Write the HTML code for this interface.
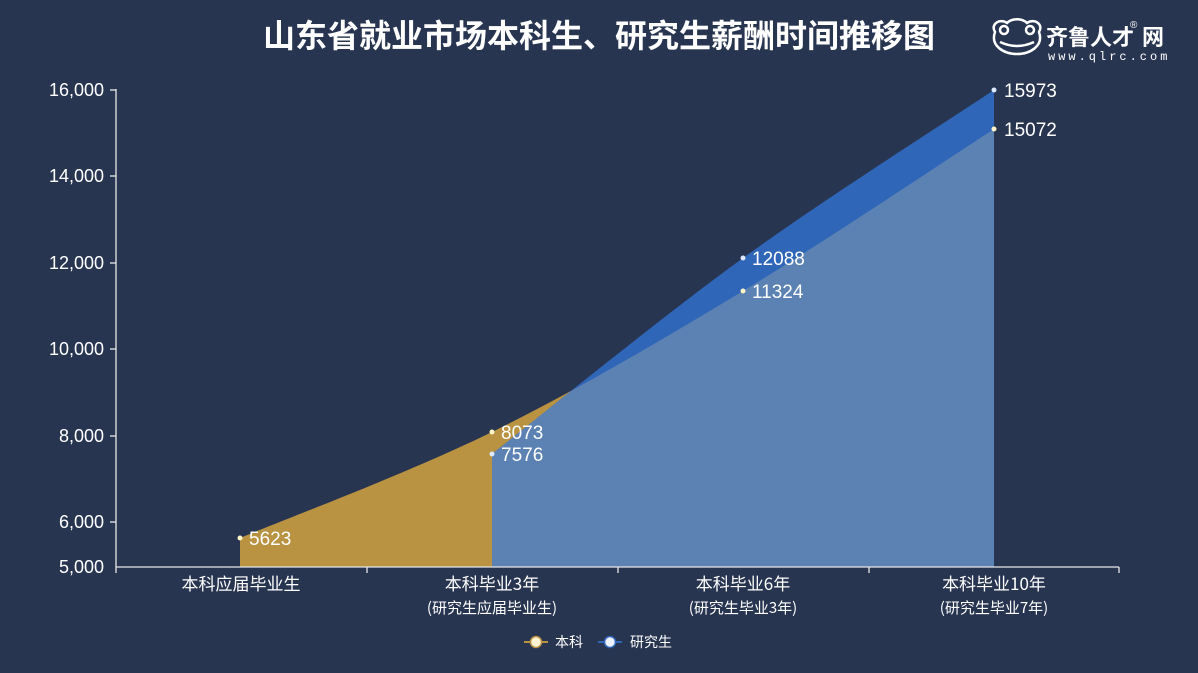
<!DOCTYPE html>
<html><head><meta charset="utf-8"><style>
html,body{margin:0;padding:0;background:#283550;}
body{width:1198px;height:673px;overflow:hidden;font-family:"Liberation Sans","Noto Sans CJK SC",sans-serif;}
</style></head><body>
<svg width="1198" height="673" xmlns="http://www.w3.org/2000/svg" style="display:block">
<rect width="1198" height="673" fill="#283550"/>
<defs>
<clipPath id="grad"><path d="M492,454 C533.8,421.3 659.3,318.7 743,258 C826.7,197.3 952.2,118 994,90 L994,567 L492,567 Z"/></clipPath>
</defs>
<text x="599" y="47" text-anchor="middle" font-size="32" font-weight="bold" fill="#ffffff" font-family="Liberation Sans,Noto Sans CJK SC,sans-serif">山东省就业市场本科生、研究生薪酬时间推移图</text>
<!-- logo -->
<g fill="none" stroke="#fff" stroke-width="2.5">
<path d="M995,32 C990,24 1000,18 1007,23 C1012,18 1022,18 1027,23 C1034,18 1044,24 1039,32 C1044,46 1030,54 1017,54 C1004,54 990,46 995,32 Z"/>
<circle cx="1004" cy="30" r="4"/><circle cx="1030" cy="30" r="4"/>
<path d="M1000,42 Q1017,50 1034,42"/>
</g>
<text x="1046" y="45" font-size="22" font-weight="bold" fill="#fff" font-family="Noto Sans CJK SC,sans-serif">齐鲁人才</text>
<text x="1142" y="45" font-size="22" font-weight="bold" fill="#fff" font-family="Noto Sans CJK SC,sans-serif">网</text>
<text x="1130" y="28" font-size="10" fill="#fff">®</text>
<text x="1048" y="60" font-size="12" fill="#fff" letter-spacing="3" font-family="Liberation Mono,monospace">www.qlrc.com</text>
<!-- areas -->
<path d="M240,538 C282,520.3 408.2,473.2 492,432 C575.8,390.8 659.3,341.5 743,291 C826.7,240.5 952.2,156 994,129 L994,567 L240,567 Z" fill="#b99342"/>
<path d="M492,454 C533.8,421.3 659.3,318.7 743,258 C826.7,197.3 952.2,118 994,90 L994,567 L492,567 Z" fill="#2f66b8"/>
<path clip-path="url(#grad)" d="M240,538 C282,520.3 408.2,473.2 492,432 C575.8,390.8 659.3,341.5 743,291 C826.7,240.5 952.2,156 994,129 L994,567 L240,567 Z" fill="#5b82b3"/>
<!-- axes -->
<g stroke="#e8e8e8" stroke-width="1.3">
<line x1="116" y1="89" x2="116" y2="567"/>
<line x1="116" y1="567" x2="1119" y2="567"/>
<line x1="110" y1="90" x2="116" y2="90"/><line x1="110" y1="176" x2="116" y2="176"/><line x1="110" y1="263" x2="116" y2="263"/><line x1="110" y1="349" x2="116" y2="349"/><line x1="110" y1="436" x2="116" y2="436"/><line x1="110" y1="522" x2="116" y2="522"/>
<line x1="116" y1="567" x2="116" y2="573"/><line x1="367" y1="567" x2="367" y2="573"/><line x1="618" y1="567" x2="618" y2="573"/><line x1="869" y1="567" x2="869" y2="573"/><line x1="1119" y1="567" x2="1119" y2="573"/>
</g>
<g font-size="18" fill="#ffffff" text-anchor="end">
<text x="104" y="96">16,000</text><text x="104" y="182">14,000</text><text x="104" y="269">12,000</text><text x="104" y="355">10,000</text><text x="104" y="442">8,000</text><text x="104" y="528">6,000</text><text x="104" y="573">5,000</text>
</g>
<g font-size="17" fill="#ffffff" text-anchor="middle" font-family="Noto Sans CJK SC,sans-serif">
<text x="241" y="590">本科应届毕业生</text>
<text x="492" y="590">本科毕业3年</text><text x="492" y="613" font-size="15">(研究生应届毕业生)</text>
<text x="743" y="590">本科毕业6年</text><text x="743" y="613" font-size="15">(研究生毕业3年)</text>
<text x="994" y="590">本科毕业10年</text><text x="994" y="613" font-size="15">(研究生毕业7年)</text>
</g>
<!-- points -->
<g fill="#fff3c8"><circle cx="240" cy="538" r="2.5"/><circle cx="492" cy="432" r="2.5"/><circle cx="743" cy="291" r="2.5"/><circle cx="994" cy="129" r="2.5"/></g>
<g fill="#dce9ff"><circle cx="492" cy="454" r="2.5"/><circle cx="743" cy="258" r="2.5"/><circle cx="994" cy="90" r="2.5"/></g>
<g font-size="19" fill="#ffffff">
<text x="249" y="545">5623</text><text x="501" y="439">8073</text><text x="501" y="461">7576</text>
<text x="752" y="298">11324</text><text x="752" y="265">12088</text>
<text x="1004" y="136">15072</text><text x="1004" y="97">15973</text>
</g>
<!-- legend -->
<line x1="524" y1="642" x2="548" y2="642" stroke="#b99342" stroke-width="2"/>
<circle cx="536" cy="642" r="5.5" fill="#fff3d6" stroke="#b99342" stroke-width="1.5"/>
<text x="555" y="647" font-size="14" fill="#fff" font-family="Noto Sans CJK SC,sans-serif">本科</text>
<line x1="598" y1="642" x2="622" y2="642" stroke="#2f66b8" stroke-width="2"/>
<circle cx="610" cy="642" r="5.5" fill="#eef4ff" stroke="#2f66b8" stroke-width="1.5"/>
<text x="630" y="647" font-size="14" fill="#fff" font-family="Noto Sans CJK SC,sans-serif">研究生</text>
</svg>
</body></html>
